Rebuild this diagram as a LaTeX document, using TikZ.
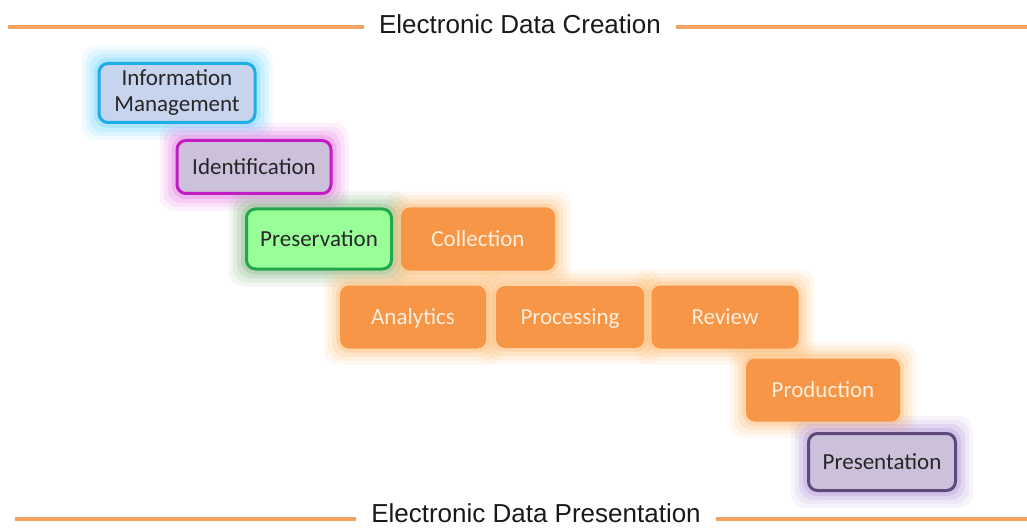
\documentclass[tikz,border=0pt]{standalone}
\usepackage{fontspec}
\setmainfont{Carlito}
\newfontfamily\headfont{Liberation Sans}
\usetikzlibrary{positioning,calc,backgrounds}

\definecolor{stageorange}{HTML}{F79646}
\definecolor{stagetext}{HTML}{FDEEDD}
\definecolor{orangeglow}{HTML}{FDB86E}
\definecolor{infofill}{HTML}{C7D4EE}
\definecolor{infoline}{HTML}{1EAEE6}
\definecolor{infoglow}{HTML}{6FD4FF}
\definecolor{identfill}{HTML}{CCC0DA}
\definecolor{identline}{HTML}{C21DC2}
\definecolor{identglow}{HTML}{E37AE3}
\definecolor{presfill}{HTML}{99FF99}
\definecolor{presline}{HTML}{22A84A}
\definecolor{presglow}{HTML}{80B480}
\definecolor{showline}{HTML}{5F497A}
\definecolor{showglow}{HTML}{B094D8}
\definecolor{headorange}{HTML}{F4A262}

% soft glow behind a box
\newcommand{\glowbox}[2]{%
  \begin{scope}[on background layer]
    \foreach \g/\o in {16/0.10,12/0.14,8/0.20,4/0.30}
      \fill[#2, opacity=\o, rounded corners=14pt]
        ($(#1.south west)+(-\g,-\g)$) rectangle ($(#1.north east)+(\g,\g)$);
  \end{scope}}

\begin{document}
\begin{tikzpicture}[%
x=1pt, y=1pt,
node distance=157pt,
on grid,
stage/.style={rectangle, rounded corners=9pt, minimum width=148pt,
  minimum height=62pt, align=center, inner sep=2pt,
  font=\fontsize{23}{26}\selectfont},
oneline/.style={text height=18pt, text depth=3pt},
orangestage/.style={stage, oneline, fill=stageorange, text=stagetext},
headtext/.style={inner xsep=15pt, inner ysep=0pt, text=black!90,
  font=\headfont\fontsize{26}{28}\selectfont},
headline/.style={headorange, line width=3.5pt}
]
\useasboundingbox (0,0) rectangle (1027,-529);

\node[stage, fill=infofill, draw=infoline, line width=3pt, text=black!85,
  minimum width=156pt, minimum height=59pt] (info) at (177,-93)
  {Information\\Management};
\node[stage, oneline, fill=identfill, draw=identline, line width=3pt, text=black!85,
  minimum width=154pt, minimum height=53pt] (ident) at (254,-167)
  {Identification};
\node[stage, oneline, fill=presfill, draw=presline, line width=3pt, text=black!85,
  minimum width=145pt, minimum height=60pt] (pres) at (319,-239)
  {Preservation};
\node[orangestage, minimum width=154pt, minimum height=63pt]
  (coll) [right=159pt of pres] {Collection};

\node[orangestage, minimum width=146pt, minimum height=63pt]
  (anal) at (413,-317) {Analytics};
\node[orangestage] (proc) [right of=anal] {Processing};
\node[orangestage, minimum width=147pt, minimum height=63pt]
  (rev) [right=155pt of proc] {Review};

\node[orangestage, minimum width=154pt, minimum height=63pt]
  (prod) at (823,-390) {Production};
\node[stage, oneline, fill=identfill, draw=showline, line width=3pt, text=black!85,
  minimum width=147pt, minimum height=57pt] (show) at (882,-462)
  {Presentation};

\glowbox{info}{infoglow}
\glowbox{ident}{identglow}
\glowbox{pres}{presglow}
\glowbox{coll}{orangeglow}
\glowbox{anal}{orangeglow}
\glowbox{proc}{orangeglow}
\glowbox{rev}{orangeglow}
\glowbox{prod}{orangeglow}
\glowbox{show}{showglow}

% top and bottom headings
\node[headtext, anchor=base] (create) at (520,-34) {Electronic Data Creation};
\coordinate (tl) at (8,-27);
\coordinate (tr) at (1027,-27);
\draw[headline] (tl) -- (create.west |- tl);
\draw[headline] (create.east |- tr) -- (tr);

\node[headtext, anchor=base] (present) at (536,-522) {Electronic Data Presentation};
\coordinate (bl) at (15,-519);
\coordinate (br) at (1027,-519);
\draw[headline] (bl) -- (present.west |- bl);
\draw[headline] (present.east |- br) -- (br);
\end{tikzpicture}
\end{document}
